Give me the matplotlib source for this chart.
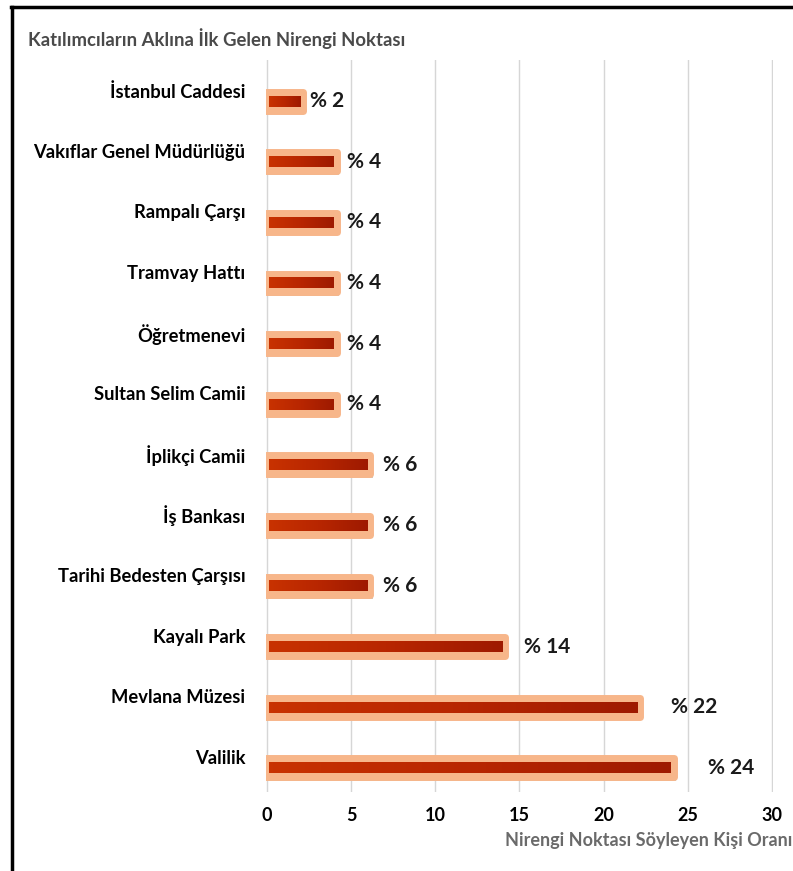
import numpy as np
import matplotlib.pyplot as plt
import matplotlib.patheffects as pe
import matplotlib.transforms as mtransforms
from matplotlib.colors import LinearSegmentedColormap
from matplotlib.lines import Line2D

plt.rcParams['font.family'] = ['Lato', 'DejaVu Sans']

# veriler (alttan üste)
kategoriler = ['Valilik', 'Mevlana Müzesi', 'Kayalı Park', 'Tarihi Bedesten Çarşısı',
               'İş Bankası', 'İplikçi Camii', 'Sultan Selim Camii', 'Öğretmenevi',
               'Tramvay Hattı', 'Rampalı Çarşı', 'Vakıflar Genel Müdürlüğü', 'İstanbul Caddesi']
oranlar = [24, 22, 14, 6, 6, 6, 4, 4, 4, 4, 4, 2]
xticks = [0, 5, 10, 15, 20, 25, 30]

fig = plt.figure(figsize=(7.93, 8.71), dpi=100)
ax = fig.add_axes([266 / 793, 1 - 792 / 871, 507 / 793, 732 / 871])

y = np.arange(len(kategoriler))
gradyan = LinearSegmentedColormap.from_list('kirmizi', ['#C83200', '#B82600', '#9E1A00'])
grad = np.linspace(0, 1, 100).reshape(1, -1)

# dış açık turuncu çubuk + gölge
outer = ax.barh(y, [v + 0.2 for v in oranlar], left=-0.05, height=0.31,
                color='#F7B68A', edgecolor='#F7B68A', linewidth=5, zorder=2)
for p in outer:
    p.set_joinstyle('round')
    p.set_path_effects([pe.SimplePatchShadow(offset=(1.5, -2.5), shadow_rgbFace='#8a8a8a', alpha=0.45),
                        pe.Normal()])

# iç koyu kırmızı çubuk (gradyan)
for yi, v in zip(y, oranlar):
    ax.imshow(grad, cmap=gradyan, aspect='auto', zorder=3,
              extent=(0.15, v, yi - 0.09, yi + 0.09))
    ax.text(v * 1.09 + 1.4, yi, '% ' + str(v), ha='center', va='center',
            fontsize=15, fontweight='bold', color='#1a1a1a', zorder=4)

ax.set_xlim(-0.05, 30.05)
ax.set_ylim(-0.4, 11.68)
ax.set_xticks(xticks)
ax.set_xticklabels([str(t) for t in xticks], fontsize=13, fontweight='bold')
ax.set_yticks(y)
ax.set_yticklabels(kategoriler, fontsize=13.2, fontweight='bold')
ax.tick_params(axis='x', length=0, pad=11)
ax.tick_params(axis='y', length=0, pad=15)
# etiketleri çubuğun biraz üstüne kaydır
kaydir = mtransforms.ScaledTranslation(0, 0.11, fig.dpi_scale_trans)
for lbl in ax.get_yticklabels():
    lbl.set_transform(lbl.get_transform() + kaydir)
ax.xaxis.grid(True, color='#D6D6D6', linewidth=1)
ax.set_axisbelow(True)
for s in ax.spines.values():
    s.set_visible(False)

fig.text(28 / 793, 1 - 39 / 871, 'Katılımcıların Aklına İlk Gelen Nirengi Noktası',
         fontsize=13.3, color='#4a4a4a', fontweight='bold', va='center', ha='left')
fig.text(792 / 793, 1 - 840 / 871, 'Nirengi Noktası Söyleyen Kişi Oranı',
         fontsize=13, color='#6a6a6a', fontweight='bold', va='center', ha='right')

# çerçeve
fig.add_artist(Line2D([12 / 793, 12 / 793], [0, 1 - 7 / 871], color='black', linewidth=2.5))
fig.add_artist(Line2D([11 / 793, 1], [1 - 7 / 871, 1 - 7 / 871], color='black', linewidth=2.5))

plt.savefig('out.png', dpi=100)
